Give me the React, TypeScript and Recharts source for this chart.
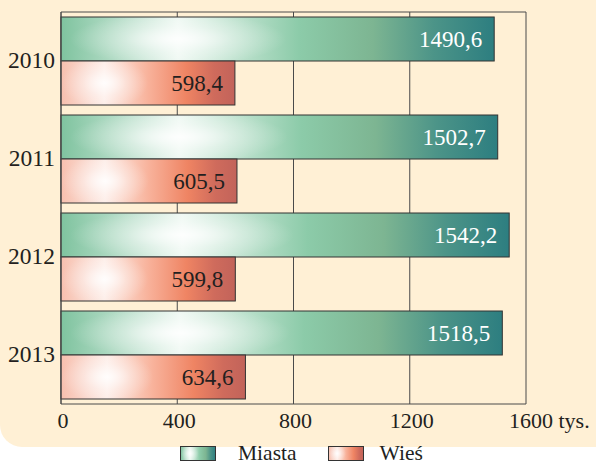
import { BarChart, Bar, XAxis, YAxis, CartesianGrid, LabelList, Legend } from "recharts";

// Ludność (tys.) wg miejsca zamieszkania
const years = ["2010", "2011", "2012", "2013"];
const miasta = [1490.6, 1502.7, 1542.2, 1518.5];
const wies = [598.4, 605.5, 599.8, 634.6];
const xTicks = [0, 400, 800, 1200, 1600];

const data = years.map((year, i) => ({ year, miasta: miasta[i], wies: wies[i] }));

const FONT = "Liberation Serif, Times New Roman, serif";
const TEXT = "#231f20";
const CREAM = "#fff0d5";
const LINE = "#4a4a4a";

const GREEN_STOPS: [number, string][] = [
    [0, "#7fc39f"],
    [0.27, "#eef8f2"],
    [0.55, "#8ccba9"],
    [0.72, "#7db592"],
    [0.86, "#4c9488"],
    [1, "#2d7e80"]
];
const RED_STOPS: [number, string][] = [
    [0, "#f7bfae"],
    [0.25, "#fdece6"],
    [0.5, "#f8b29b"],
    [0.72, "#ef8463"],
    [0.88, "#cf6b5c"],
    [1, "#c2635a"]
];

const fmt = (v: number) => v.toFixed(1).replace(".", ",");

// bar with horizontal gradient + white radial highlight
const makeShape = (id: string) => (props: any) => {
    const { x, y, width, height } = props;
    if (!width || !height) return null;
    return (
        <g>
            <rect x={x} y={y} width={width} height={height} fill={`url(#lin-${id})`} />
            <rect x={x} y={y} width={width} height={height} fill={`url(#rad-${id})`} />
            <rect x={x} y={y} width={width} height={height} fill="none" stroke="#333" strokeWidth={1} />
        </g>
    );
};

const XTick = ({ x, y, payload }: any) => {
    const last = payload.value === 1600;
    return (
        <text
            x={last ? x - 17 : x + 2}
            y={y}
            dy="0.71em"
            textAnchor={last ? "start" : "middle"}
            style={{ fontFamily: FONT }}
            fontSize={22}
            fill={TEXT}
        >
            {last ? "1600 tys." : payload.value}
        </text>
    );
};

const YTick = ({ x, y, payload }: any) => (
    <text x={x + 2} y={y} dy="0.3em" textAnchor="end" style={{ fontFamily: FONT }} fontSize={23.5} fill={TEXT}>
        {payload.value}
    </text>
);

const Swatch = ({ id }: { id: string }) => (
    <svg width={36} height={15} style={{ display: "block" }}>
        <rect x={0.5} y={0.5} width={35} height={14} fill={`url(#lin-${id})`} />
        <rect x={0.5} y={0.5} width={35} height={14} fill={`url(#rad-${id})`} />
        <rect x={0.5} y={0.5} width={35} height={14} fill="none" stroke="#333" strokeWidth={1} />
    </svg>
);

const LegendContent = () => (
    <div
        style={{
            display: "flex",
            alignItems: "center",
            height: 17,
            paddingLeft: 180,
            fontFamily: FONT,
            fontSize: 21.5,
            color: TEXT,
            lineHeight: "17px"
        }}
    >
        <Swatch id="g" />
        <span style={{ marginLeft: 22, marginRight: 31 }}>Miasta</span>
        <Swatch id="r" />
        <span style={{ marginLeft: 16 }}>Wieś</span>
    </div>
);

const gradients = (id: string, stops: [number, string][], cx: number) => (
    <>
        <linearGradient id={`lin-${id}`} x1="0" y1="0" x2="1" y2="0">
            {stops.map(([o, c]) => (
                <stop key={o} offset={o} stopColor={c} />
            ))}
        </linearGradient>
        <radialGradient
            id={`rad-${id}`}
            cx={cx}
            cy={0.5}
            r={0.5}
            gradientTransform={`translate(${cx} 0.5) scale(0.5 1.2) translate(${-cx} -0.5)`}
        >
            <stop offset={0} stopColor="#ffffff" stopOpacity={0.9} />
            <stop offset={0.5} stopColor="#ffffff" stopOpacity={0.35} />
            <stop offset={1} stopColor="#ffffff" stopOpacity={0} />
        </radialGradient>
    </>
);

export default function App() {
    return (
        <div style={{ position: "absolute", left: 0, top: 0, width: 596, height: 464, background: "#fff" }}>
            <div
                style={{
                    position: "absolute",
                    left: 0,
                    top: 0,
                    width: 596,
                    height: 447,
                    background: CREAM,
                    borderBottomLeftRadius: 22
                }}
            />
            <BarChart
                width={596}
                height={464}
                data={data}
                layout="vertical"
                margin={{ top: 11, right: 70, bottom: 13, left: 0 }}
                barCategoryGap={10}
                barGap={0}
                style={{ position: "absolute", left: 0, top: 0 }}
            >
                <defs>
                    {gradients("g", GREEN_STOPS, 0.27)}
                    {gradients("r", RED_STOPS, 0.25)}
                </defs>
                <CartesianGrid horizontal={false} stroke={LINE} strokeWidth={1} />
                <XAxis
                    type="number"
                    domain={[0, 1600]}
                    ticks={xTicks}
                    axisLine={{ stroke: LINE }}
                    tickLine={false}
                    tick={<XTick />}
                    height={30}
                    interval={0}
                />
                <XAxis
                    xAxisId="top"
                    orientation="top"
                    type="number"
                    domain={[0, 1600]}
                    ticks={xTicks}
                    axisLine={{ stroke: LINE }}
                    tickLine={false}
                    tick={false}
                    height={1}
                />
                <YAxis
                    type="category"
                    dataKey="year"
                    width={61}
                    axisLine={{ stroke: LINE }}
                    tickLine={false}
                    tick={<YTick />}
                />
                <Legend
                    verticalAlign="bottom"
                    content={<LegendContent />}
                    wrapperStyle={{ height: 17, bottom: 2, left: 0, width: 596 }}
                />
                <Bar dataKey="miasta" name="Miasta" barSize={44} shape={makeShape("g")} isAnimationActive={false}>
                    <LabelList
                        dataKey="miasta"
                        position="insideRight"
                        offset={12}
                        formatter={(v: any) => fmt(Number(v))}
                        fill="#ffffff"
                        style={{ fontFamily: FONT }}
                        fontSize={23}
                    />
                </Bar>
                <Bar dataKey="wies" name="Wieś" barSize={44} shape={makeShape("r")} isAnimationActive={false}>
                    <LabelList
                        dataKey="wies"
                        position="insideRight"
                        offset={12}
                        formatter={(v: any) => fmt(Number(v))}
                        fill={TEXT}
                        style={{ fontFamily: FONT }}
                        fontSize={23}
                    />
                </Bar>
            </BarChart>
        </div>
    );
}
